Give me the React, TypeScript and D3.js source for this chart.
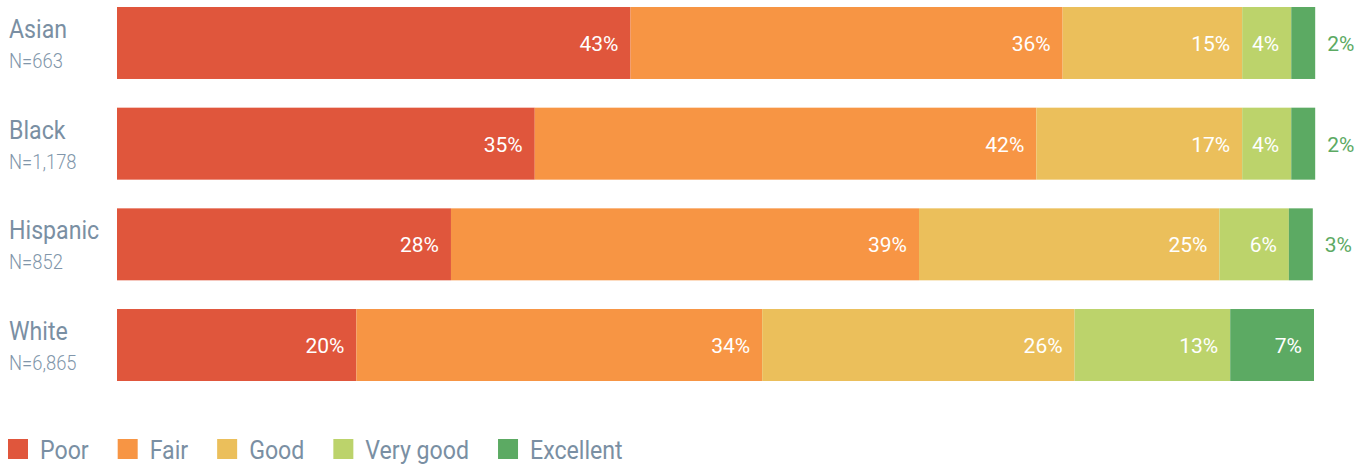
import React, { useEffect, useRef } from 'react';
import * as d3 from 'd3';

// Groups and sample sizes
const categories = ['Asian', 'Black', 'Hispanic', 'White'];
const sampleSizes = ['N=663', 'N=1,178', 'N=852', 'N=6,865'];

// Rating levels (legend order)
const levels = ['Poor', 'Fair', 'Good', 'Very good', 'Excellent'];
const colors = ['#e0563c', '#f79544', '#ebbf5b', '#bcd36b', '#5caa63'];

// Segment shares
const poor = [42.9, 34.9, 27.9, 20.0];
const fair = [36.1, 41.9, 39.1, 33.9];
const good = [15.0, 17.2, 25.1, 26.1];
const veryGood = [4.1, 4.1, 5.8, 13.0];
const excellent = [2.0, 2.0, 2.0, 7.0];

// Percentages printed on the chart
const poorLabel = [43, 35, 28, 20];
const fairLabel = [36, 42, 39, 34];
const goodLabel = [15, 17, 25, 26];
const veryGoodLabel = [4, 4, 6, 13];
const excellentLabel = [2, 2, 3, 7];

const textColor = '#7a8fa3';
const squeeze = 0.89; // narrow look of the condensed label font

const App = () => {
  const ref = useRef<SVGSVGElement>(null);

  useEffect(() => {
    const svg = d3.select(ref.current);
    svg.selectAll('*').remove();

    const shares = [poor, fair, good, veryGood, excellent];
    const labels = [poorLabel, fairLabel, goodLabel, veryGoodLabel, excellentLabel];

    const rows = categories.map((c, i) => {
      const row: any = { category: c };
      levels.forEach((l, j) => (row[l] = shares[j][i]));
      return row;
    });

    const stack = d3.stack().keys(levels)(rows);

    const x = d3.scaleLinear().domain([0, 100]).range([117, 1314]);
    const y = d3.scaleBand().domain(categories).range([7, 381]).paddingInner(0.285);

    // Row labels
    const rowLabels = svg
      .selectAll('.row-label')
      .data(categories)
      .enter()
      .append('g')
      .attr('class', 'row-label');

    rowLabels
      .append('text')
      .attr('transform', (d) => `translate(9, ${y(d)! + 31}) scale(${squeeze}, 1)`)
      .style('font-family', 'Roboto')
      .style('font-size', '26px')
      .attr('fill', textColor)
      .text((d) => d);

    rowLabels
      .append('text')
      .attr('transform', (d) => `translate(9, ${y(d)! + 61}) scale(0.92, 1)`)
      .style('font-family', 'Roboto')
      .style('font-weight', '300')
      .style('font-size', '20px')
      .attr('fill', '#8196aa')
      .text((d, i) => sampleSizes[i]);

    // Stacked segments
    const layers = svg
      .selectAll('.layer')
      .data(stack)
      .enter()
      .append('g')
      .attr('class', 'layer')
      .attr('fill', (d, i) => colors[i]);

    layers
      .selectAll('rect')
      .data((d) => d)
      .enter()
      .append('rect')
      .attr('x', (d) => x(d[0]))
      .attr('y', (d) => y(d.data.category as string)!)
      .attr('width', (d) => x(d[1]) - x(d[0]))
      .attr('height', y.bandwidth());

    // Value labels: inside at the right end, or outside when the segment is thin
    stack.forEach((layer, li) => {
      layer.forEach((seg, ci) => {
        const value = labels[li][ci];
        const outside = value < 4;
        svg
          .append('text')
          .attr('x', outside ? x(seg[1]) + 12 : x(seg[1]) - 12)
          .attr('y', y(categories[ci])! + y.bandwidth() / 2 + 1)
          .attr('dominant-baseline', 'central')
          .attr('text-anchor', outside ? 'start' : 'end')
          .style('font-family', 'Roboto')
          .style('font-size', '21px')
          .attr('fill', outside ? colors[4] : '#ffffff')
          .text(`${value}%`);
      });
    });

    // Legend
    let lx = 8;
    levels.forEach((l, i) => {
      svg
        .append('rect')
        .attr('x', lx)
        .attr('y', 439)
        .attr('width', 20)
        .attr('height', 20)
        .attr('fill', colors[i]);
      const t = svg
        .append('text')
        .attr('transform', `translate(${lx + 32}, 459) scale(${squeeze}, 1)`)
        .style('font-family', 'Roboto')
        .style('font-size', '26px')
        .attr('fill', textColor)
        .text(l);
      const w = (t.node() as SVGTextElement).getComputedTextLength() * squeeze;
      lx = lx + 32 + w + 29;
    });
  }, []);

  return (
    <svg
      ref={ref}
      width={1367}
      height={466}
      style={{ position: 'absolute', left: 0, top: 0, background: '#ffffff' }}
    ></svg>
  );
};

export default App;
